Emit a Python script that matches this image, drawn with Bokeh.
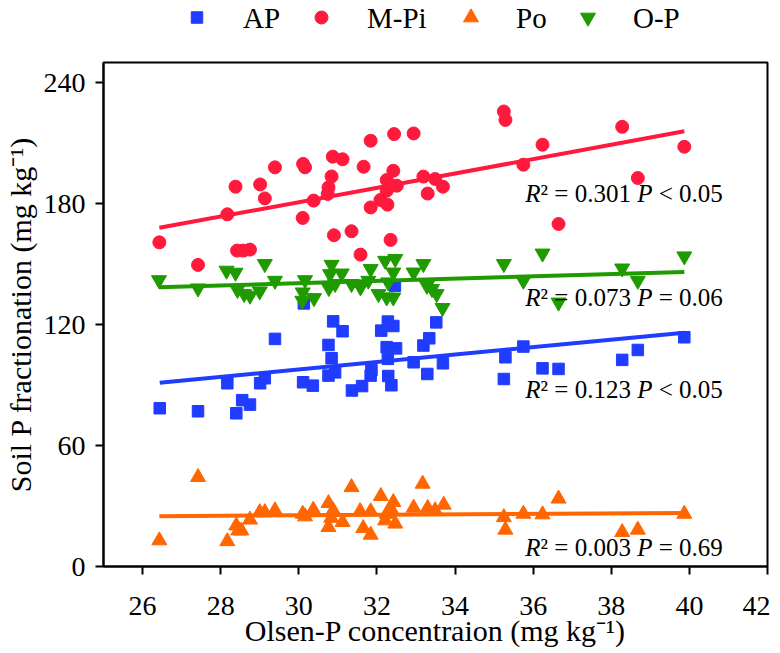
import numpy as np
from bokeh.plotting import figure
from bokeh.layouts import column
from bokeh.models import Range1d, FixedTicker, Label
from bokeh.core.properties import value
from bokeh.embed import file_html
from bokeh.resources import INLINE

FONT = "Liberation Serif"

# ---------------- data ----------------
ap_x = [26.44, 27.42, 28.17, 28.40, 28.55, 28.75, 29.01, 29.13, 29.39, 30.11, 30.13, 30.36,
        30.76, 30.76, 30.84, 30.88, 30.93, 31.12, 31.36, 31.62, 31.84, 31.86, 32.11, 32.25,
        32.28, 32.28, 32.29, 32.37, 32.42, 32.46, 32.49, 32.94, 33.19, 33.29, 33.34, 33.52,
        33.69, 35.25, 35.29, 35.75, 36.24, 36.65, 38.28, 38.68, 39.87]
ap_y = [78.5, 77.0, 90.9, 76.0, 82.5, 80.3, 90.9, 93.4, 112.9, 91.4, 130.5, 89.7,
        109.9, 94.7, 103.3, 121.6, 96.3, 116.7, 87.3, 89.5, 94.7, 97.4, 117.0, 108.8,
        121.5, 103.0, 94.5, 89.9, 119.3, 139.3, 108.2, 101.3, 109.6, 95.5, 113.2, 121.1,
        100.8, 93.0, 103.8, 109.1, 98.3, 98.0, 102.5, 107.4, 113.7]

mpi_x = [26.43, 27.42, 28.17, 28.38, 28.42, 28.58, 28.75, 29.01, 29.13, 29.39, 30.10, 30.11,
         30.16, 30.38, 30.74, 30.76, 30.84, 30.87, 30.90, 31.12, 31.35, 31.58, 31.66, 31.84,
         31.84, 32.09, 32.25, 32.25, 32.27, 32.35, 32.38, 32.42, 32.44, 32.51, 32.94, 33.19,
         33.30, 33.49, 33.69, 35.25, 35.29, 35.75, 36.24, 36.65, 38.28, 38.68, 39.87]
mpi_y = [160.8, 149.6, 174.7, 188.4, 156.7, 156.7, 157.2, 189.5, 182.6, 198.0, 172.9, 199.7,
         198.0, 181.5, 184.8, 188.0, 193.5, 203.3, 164.3, 202.0, 166.3, 154.7, 198.3, 211.2,
         178.1, 181.8, 191.7, 186.4, 179.5, 162.0, 188.9, 196.3, 214.5, 188.9, 214.8, 193.4,
         185.0, 192.2, 188.4, 225.7, 221.5, 199.3, 209.2, 169.9, 218.1, 192.7, 208.2]

po_x = [26.43, 27.42, 28.17, 28.40, 28.45, 28.53, 28.75, 29.00, 29.13, 29.39, 30.10, 30.16,
        30.37, 30.40, 30.76, 30.76, 30.83, 30.88, 31.12, 31.35, 31.57, 31.65, 31.84, 31.84,
        32.10, 32.21, 32.25, 32.35, 32.42, 32.47, 32.94, 33.17, 33.30, 33.49, 33.71, 35.25,
        35.29, 35.75, 36.24, 36.65, 38.28, 38.68, 39.87]
po_y = [12.9, 44.3, 12.5, 20.3, 17.8, 17.8, 23.2, 26.9, 26.9, 27.8, 26.1, 24.8,
        28.1, 26.9, 31.4, 19.5, 24.1, 27.8, 22.0, 39.3, 27.4, 19.0, 15.7, 27.3,
        34.9, 22.8, 26.1, 28.9, 31.9, 21.2, 29.1, 41.0, 29.0, 27.8, 30.6, 24.4,
        18.2, 26.1, 25.8, 33.6, 17.0, 18.2, 26.1]

op_x = [26.42, 27.42, 28.15, 28.38, 28.43, 28.60, 28.75, 29.00, 29.13, 29.39, 30.09, 30.10,
        30.16, 30.39, 30.77, 30.80, 30.84, 30.93, 31.10, 31.35, 31.58, 31.78, 31.84, 32.04,
        32.21, 32.25, 32.29, 32.42, 32.42, 32.47, 32.94, 33.19, 33.28, 33.41, 33.53, 33.68,
        35.25, 35.75, 36.24, 36.65, 38.28, 38.68, 39.87]
op_y = [142.1, 138.0, 146.8, 145.8, 137.2, 135.2, 134.4, 136.5, 150.1, 141.8, 131.9, 136.0,
        142.1, 133.2, 138.2, 145.1, 149.7, 140.2, 145.4, 140.2, 138.5, 141.8, 147.6, 135.2,
        151.7, 133.5, 141.0, 145.9, 133.5, 152.6, 145.9, 150.1, 139.3, 137.7, 135.2, 128.3,
        150.1, 141.8, 155.3, 131.0, 147.9, 141.8, 153.9]

series_names = ["AP", "M-Pi", "Po", "O-P"]
r2_values = ["0.301", "0.073", "0.123", "0.003"]
p_values = ["< 0.05", "= 0.06", "< 0.05", "= 0.69"]

x_ticks = [26, 28, 30, 32, 34, 36, 38, 40, 42]
y_ticks = [0, 60, 120, 180, 240]

# ---------------- styling ----------------
BLUE = "#1f3cff"
RED = "#ff1a3d"
ORANGE = "#ff6600"
GREEN = "#1f9b00"
COLORS = [BLUE, RED, ORANGE, GREEN]
MARKERS = ["square", "circle", "triangle", "inverted_triangle"]
SIZES = [11.5, 13, 15, 15]

FRAME_W = 664
LEG_H = 52
BORDER_L = 97
BORDER_R = 3

# ---------------- main plot ----------------
p = figure(output_backend="svg", toolbar_location=None, title=None,
           frame_width=FRAME_W, frame_height=504,
           min_border_left=BORDER_L, min_border_right=BORDER_R, min_border_top=10, min_border_bottom=80,
           x_range=Range1d(25, 42), y_range=Range1d(0, 250),
           background_fill_color="white", border_fill_color="white")

p.xgrid.visible = False
p.ygrid.visible = False
p.outline_line_color = "black"
p.outline_line_width = 2
p.outline_line_alpha = 1

for ax in (p.xaxis[0], p.yaxis[0]):
    ax.axis_line_width = 2
    ax.axis_line_color = "black"
    ax.major_tick_line_width = 2
    ax.major_tick_line_color = "black"
    ax.major_tick_out = 8
    ax.major_tick_in = 0
    ax.minor_tick_out = 0
    ax.minor_tick_in = 0
    ax.major_label_text_font = FONT
    ax.major_label_text_font_size = "28px"
    ax.major_label_text_color = "black"
    ax.axis_label_text_font = FONT
    ax.axis_label_text_font_size = "30px"
    ax.axis_label_text_font_style = "normal"
    ax.axis_label_text_color = "black"

p.xaxis.ticker = FixedTicker(ticks=x_ticks)
p.yaxis.ticker = FixedTicker(ticks=y_ticks)
p.xaxis.axis_label = "Olsen-P concentraion (mg kg\u207b\u00b9)"
p.yaxis.axis_label = "Soil P fractionation (mg kg\u207b\u00b9)"
p.xaxis.major_label_standoff = 22
p.yaxis.major_label_standoff = 10
p.xaxis.axis_label_standoff = -4
p.yaxis.axis_label_standoff = 4


def fit_line(xs, ys, color):
    xs = np.asarray(xs)
    ys = np.asarray(ys)
    k, b = np.polyfit(xs, ys, 1)
    lx = np.array([xs.min(), xs.max()])
    p.line(lx, k * lx + b, line_color=color, line_width=4)


all_x = [ap_x, mpi_x, po_x, op_x]
all_y = [ap_y, mpi_y, po_y, op_y]
for xs, ys, c, m, s in zip(all_x, all_y, COLORS, MARKERS, SIZES):
    p.scatter(xs, ys, marker=m, size=s, fill_color=c, line_color=c)
    fit_line(xs, ys, c)

# ---------------- statistics annotations ----------------
EM = 25.0
W = {'0': .5, '1': .5, '2': .5, '3': .5, '4': .5, '5': .5, '6': .5, '7': .5, '8': .5, '9': .5,
     '.': .25, ' ': .25, '=': .564, '<': .564, '\u00b2': .3}


def tw(s):
    return sum(W.get(c, .5) for c in s) * EM


ann_x = 35.8
ann_y = [180.6, 128.9, 83.1, 5.0]   # baselines of the four annotations
SP = 0.25 * EM
for i in range(4):
    parts = [("R", True, 0.0), ("\u00b2 = " + r2_values[i], False, SP), ("P", True, SP),
             (p_values[i], False, 0.0)]
    off = 0.0
    for txt, ital, gap_after in parts:
        p.add_layout(Label(x=ann_x, y=ann_y[i], x_units="data", y_units="data",
                           x_offset=off, y_offset=9,
                           text=txt, text_font=FONT, text_font_size="25px",
                           text_font_style="italic" if ital else "normal",
                           text_baseline="alphabetic", text_align="left", text_color="black"))
        off += ((0.611 * EM) if ital else tw(txt)) + gap_after

# ---------------- legend strip (own small figure, frame aligned with the plot) ----------------
leg = figure(output_backend="svg", toolbar_location=None, title=None,
             frame_width=FRAME_W, frame_height=LEG_H,
             min_border_left=BORDER_L, min_border_right=BORDER_R, min_border_top=0, min_border_bottom=0,
             x_range=Range1d(0, FRAME_W), y_range=Range1d(0, LEG_H),
             x_axis_type=None, y_axis_type=None,
             background_fill_color="white", border_fill_color="white")
leg.outline_line_color = None
leg.xgrid.visible = False
leg.ygrid.visible = False

leg_glyph_x = [93.5, 218, 367.5, 484.5]     # key positions, px from the frame's left edge
leg_text_x = [139.5, 263.5, 412.5, 529.5]
leg_row_y = 35
for gx, c, m, s in zip(leg_glyph_x, COLORS, MARKERS, SIZES):
    leg.scatter([gx], [leg_row_y], marker=m, size=s, fill_color=c, line_color=c)
leg.text(x=leg_text_x, y=[leg_row_y] * 4, text=series_names,
         text_font=value(FONT), text_font_size="29px", text_color="black",
         text_baseline="middle", text_align="left")

layout = column(leg, p, spacing=0)
open("out.html", "w").write(file_html(layout, INLINE))
